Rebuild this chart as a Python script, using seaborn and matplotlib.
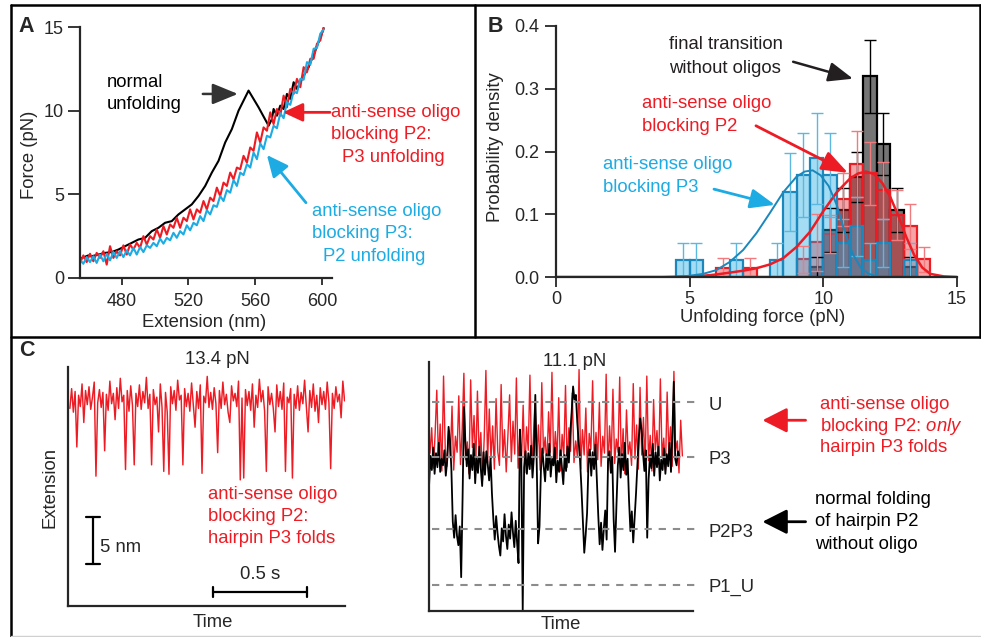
import numpy as np
import pandas as pd
import matplotlib
matplotlib.use("Agg")
import matplotlib.pyplot as plt
from matplotlib.lines import Line2D
import seaborn as sns

sns.set_style("ticks")
plt.rcParams["font.family"] = ["Liberation Sans", "DejaVu Sans"]
plt.rcParams["mathtext.fontset"] = "custom"
plt.rcParams["mathtext.rm"] = "Liberation Sans"
plt.rcParams["mathtext.it"] = "Liberation Sans:italic"

RED = "#ed1c24"
BLUE = "#1cabe2"
BLUE_DK = "#1a87bd"
INK = "#231f20"
FS = 13.3

# ---------------- panel A : force-extension curves ----------------
ext_grid = np.arange(455, 602, 2)
force_p2_blocked = [
    0.9, 1.35, 0.95, 1.45, 1.0, 1.5, 1.2, 1.6, 0.8, 1.9,
    1.2, 1.6, 1.35, 1.95, 1.4, 2.0, 1.7, 2.1, 1.8, 2.5,
    2.0, 2.5, 2.3, 2.9, 2.4, 3.1, 2.6, 3.2, 3.0, 3.6,
    3.0, 3.6, 3.4, 4.1, 3.5, 4.1, 3.9, 4.6, 4.1, 4.8,
    4.6, 5.4, 4.9, 5.7, 5.5, 6.3, 5.9, 6.6, 6.5, 7.3,
    6.9, 7.8, 7.6, 8.7, 8.1, 9.0, 8.8, 9.9, 9.2, 10.1,
    9.7, 10.9, 10.2, 11.3, 11.0, 11.9, 11.4, 12.6, 12.3, 13.1,
    13.1, 14.0, 14.2, 15.0]
force_p3_blocked = [
    1.1, 0.85, 1.25, 0.95, 1.3, 0.9, 1.4, 1.0, 1.45, 1.05,
    1.55, 1.2, 1.6, 1.25, 1.65, 1.35, 1.8, 1.4, 1.85, 1.55,
    1.95, 1.8, 2.1, 1.9, 2.35, 2.05, 2.4, 2.25, 2.7, 2.4,
    2.8, 2.6, 3.15, 2.85, 3.3, 3.15, 3.7, 3.4, 4.05, 3.8,
    4.35, 4.25, 4.9, 4.6, 5.25, 5.1, 5.85, 5.5, 6.3, 6.15,
    6.8, 6.6, 7.5, 7.1, 8.05, 7.7, 8.5, 8.4, 9.1, 8.95,
    9.85, 9.55, 10.5, 10.35, 11.15, 11.05, 11.9, 11.85, 12.9, 12.75,
    13.7, 13.75, 14.6, 14.85]
ext_normal = [455, 460, 462, 466, 470, 474, 478, 482, 486, 490,
              494, 498, 502, 506, 510, 514, 518, 522, 526, 530,
              534, 538, 542, 546, 550, 553, 556, 562, 568, 570,
              571, 573, 575, 577, 579, 581, 583, 585, 588, 592,
              596, 601]
force_normal = [1.15, 1.35, 1.3, 1.4, 1.5, 1.55, 1.7, 1.9, 2.1, 2.3,
                2.4, 2.8, 3.0, 3.3, 3.4, 3.8, 4.1, 4.4, 4.9, 5.5,
                6.3, 7.0, 8.1, 8.9, 10.0, 10.6, 11.2, 10.2, 9.1, 9.5,
                10.1, 9.7, 10.3, 10.1, 11.0, 10.7, 11.7, 11.3, 11.9, 12.6,
                13.6, 14.9]

# ---------------- panel B : unfolding force histograms ----------------
bin_starts = [4.5, 5.0, 5.5, 6.0, 6.5, 7.0, 7.5, 8.0, 8.5, 9.0,
              9.5, 10.0, 10.5, 11.0, 11.5, 12.0, 12.5, 13.0, 13.5]
dens_p3_blocked = [0.027, 0.027, 0, 0, 0.027, 0, 0, 0.027, 0.135, 0.162,
                   0.189, 0.162, 0.054, 0.081, 0.027, 0.054, 0, 0.027, 0]
err_p3_blocked = [0.027, 0.027, 0, 0, 0.027, 0, 0, 0.027, 0.062, 0.067,
                  0.073, 0.067, 0.038, 0.047, 0.027, 0.038, 0, 0.027, 0]
dens_p2_blocked = [0, 0, 0, 0.014, 0, 0.014, 0, 0, 0, 0.028,
                   0.055, 0.069, 0.124, 0.18, 0.165, 0.138, 0.099, 0.081, 0.028]
err_p2_blocked = [0, 0, 0, 0.016, 0, 0.016, 0, 0, 0, 0.022,
                  0.045, 0.03, 0.042, 0.052, 0.05, 0.046, 0.04, 0.036, 0.02]
dens_no_oligo = [0, 0, 0, 0, 0, 0, 0, 0, 0, 0,
                 0.016, 0.075, 0.107, 0.16, 0.32, 0.212, 0.107, 0.016, 0]
err_no_oligo = [0, 0, 0, 0, 0, 0, 0, 0, 0, 0,
                0.016, 0.035, 0.035, 0.04, 0.058, 0.05, 0.035, 0.016, 0]
fit_x_p3 = [4.5, 5.0, 5.5, 6.0, 6.5, 7.0, 7.5, 8.0, 8.5, 9.0, 9.3,
            9.6, 9.9, 10.2, 10.5, 10.8, 11.1, 11.4, 11.7, 12.0, 12.5]
fit_y_p3 = [0.0, 0.002, 0.005, 0.011, 0.024, 0.043, 0.07, 0.102, 0.135, 0.16, 0.168,
            0.17, 0.162, 0.145, 0.115, 0.072, 0.037, 0.015, 0.005, 0.001, 0.0]
fit_x_p2 = [0.0, 4.0, 5.0, 5.5, 6.0, 6.5, 7.0, 7.5, 8.0, 8.5, 9.0, 9.5, 10.0, 10.5,
            11.0, 11.3, 11.6, 11.9, 12.2, 12.5, 12.8, 13.1, 13.4, 13.7, 14.0, 14.5, 15.0]
fit_y_p2 = [0.0, 0.0, 0.001, 0.002, 0.004, 0.007, 0.010, 0.014, 0.02, 0.03, 0.048, 0.072,
            0.105, 0.135, 0.157, 0.165, 0.168, 0.164, 0.15, 0.128, 0.098, 0.064, 0.035,
            0.015, 0.005, 0.001, 0.0]

# ---------------- panel C : constant-force traces ----------------
trace_134 = [
    21.0, 23.1, 20.6, 22.8, 16.9, 22.4, 21.2, 23.6, 19.5, 22.9,
    21.4, 23.3, 20.9, 22.2, 23.8, 13.8, 21.6, 23.0, 21.1, 22.7,
    16.5, 22.5, 20.8, 23.9, 21.5, 22.6, 19.8, 23.2, 21.0, 24.2,
    21.7, 22.4, 14.5, 22.9, 20.7, 23.4, 21.3, 15.0, 22.6, 21.2,
    23.5, 20.9, 22.8, 21.6, 24.3, 21.0, 22.5, 15.0, 23.0, 21.4,
    22.2, 18.5, 23.6, 21.1, 14.3, 22.7, 20.6, 14.0, 23.3, 21.5,
    22.9, 20.8, 24.0, 21.9, 22.4, 15.0, 23.1, 21.2, 22.6, 20.7,
    23.7, 21.3, 19.0, 22.8, 21.0, 23.5, 14.1, 22.3, 21.6, 24.4,
    21.1, 22.7, 20.9, 23.2, 21.5, 16.3, 22.9, 21.0, 23.8, 21.4,
    22.5, 20.6, 19.5, 23.4, 21.8, 22.6, 21.2, 23.9, 13.4, 22.1,
    13.6, 23.0, 21.3, 22.8, 20.8, 23.6, 19.0, 22.4, 21.1, 24.1,
    21.7, 22.9, 20.7, 14.3, 23.3, 21.4, 22.6, 21.0, 18.5, 23.5,
    21.2, 22.8, 20.9, 23.7, 14.3, 22.2, 21.6, 23.1, 13.6, 22.5,
    21.0, 23.4, 20.8, 22.7, 21.5, 24.0, 21.3, 18.5, 22.9, 21.1,
    23.6, 20.7, 22.4, 19.5, 23.2, 21.4, 22.8, 20.9, 23.8, 21.6,
    14.6, 22.6, 21.0, 23.3, 21.7, 22.5, 20.0, 23.9, 21.8, 22.4]
trace_111_oligo = [
    16.8, 19.5, 15.2, 18.8, 23.5, 16.0, 19.9, 14.9, 25.0, 17.2,
    15.4, 19.2, 16.3, 21.8, 15.0, 18.6, 16.9, 22.9, 15.6, 19.4,
    25.3, 16.1, 18.0, 14.6, 24.6, 17.4, 20.8, 15.3, 23.4, 16.6,
    19.0, 13.9, 18.4, 25.6, 15.8, 21.5, 16.2, 19.7, 15.1, 22.6,
    17.0, 15.5, 24.1, 16.4, 19.3, 14.8, 18.7, 23.0, 15.9, 20.2,
    16.7, 24.8, 15.2, 18.9, 16.0, 21.9, 14.7, 19.6, 17.1, 25.1,
    15.6, 18.2, 22.4, 16.3, 19.8, 15.0, 24.3, 16.8, 18.5, 15.4,
    21.2, 16.9, 25.4, 15.7, 19.1, 16.2, 22.7, 14.9, 18.8, 16.5,
    24.0, 15.3, 19.5, 17.0, 23.2, 15.8, 18.1, 16.4, 25.7, 15.1,
    19.3, 16.6, 21.6, 14.8, 18.9, 17.2, 24.5, 15.9, 19.0, 16.1,
    22.2, 15.4, 18.6, 16.8, 25.2, 15.0, 19.7, 16.3, 23.6, 15.7,
    18.3, 16.9, 24.9, 15.2, 19.4, 14.6, 21.4, 16.7, 18.0, 15.5,
    24.2, 16.2, 19.8, 15.1, 23.8, 16.6, 20.6, 15.3, 25.0, 16.0,
    18.7, 14.9, 22.5, 17.1, 19.2, 15.6, 24.7, 16.4, 18.4, 15.0,
    23.3, 16.8, 19.6, 15.4, 25.5, 17.0, 18.1, 14.7, 20.3, 16.5]
trace_111_normal = [
    13.2, 16.5, 15.0, 17.4, 14.6, 16.8, 15.3, 17.9, 14.8, 16.2,
    15.5, 17.1, 14.4, 16.0, 19.6, 18.2, 15.1, 9.5, 7.8, 10.2,
    8.0, 7.0, 9.0, 3.6, 12.0, 21.7, 18.0, 15.4, 17.2, 14.1,
    16.6, 15.0, 17.8, 13.6, 16.3, 14.7, 17.5, 15.2, 13.3, 16.9,
    14.5, 17.0, 15.6, 13.9, 16.4, 12.5, 9.8, 7.6, 10.1, 8.3,
    6.9, 5.9, 8.8, 7.4, 10.3, 8.0, 6.6, 9.2, 7.7, 10.5,
    8.4, 6.8, 9.6, 7.2, 5.1, 19.3, 16.0, 0.0, 15.3, 17.0,
    14.6, 16.8, 15.1, 17.6, 14.2, 16.5, 23.0, 15.8, 7.2, 9.0,
    14.9, 17.3, 15.4, 13.8, 16.7, 15.0, 17.8, 14.3, 16.2, 15.5,
    17.4, 13.7, 16.0, 14.8, 17.1, 15.3, 13.5, 16.6, 14.9, 17.5,
    15.8, 19.0, 21.2, 23.9, 22.5, 23.0, 20.1, 18.0, 16.0, 13.0,
    9.5, 6.2, 8.1, 10.4, 15.6, 17.2, 14.4, 16.9, 15.1, 17.7,
    14.0, 10.2, 7.1, 9.4, 6.5, 8.8, 10.7, 7.6, 15.9, 17.0,
    14.7, 16.4, 9.8, 6.3, 11.2, 15.5, 17.4, 14.2, 16.7, 15.0,
    17.9, 14.5, 16.2, 11.8, 8.5, 10.6, 7.3, 9.9, 12.5, 15.6,
    18.4, 20.5, 19.2, 16.8, 14.9, 17.1, 7.8, 14.0, 16.6, 15.2,
    17.8, 14.4, 16.9, 15.3, 17.5, 13.9, 16.1, 15.0, 17.3, 14.6,
    16.7, 15.4, 17.9, 14.8, 19.0, 24.4, 16.2, 15.5, 17.0, 16.4]
state_names = ["U", "P3", "P2P3", "P1_U"]
state_levels = [22.2, 16.4, 8.7, 2.8]

# ---------------- figure layout (pixel boxes) ----------------
W, H = 981, 637
fig = plt.figure(figsize=(W / 100, H / 100), dpi=100)


def px_box(l, t, r, b):
    return [l / W, 1 - b / H, (r - l) / W, (b - t) / H]


def fig_line(x0, y0, x1, y1, color="black", lw=1.8):
    fig.add_artist(Line2D([x0 / W, x1 / W], [1 - y0 / H, 1 - y1 / H],
                          transform=fig.transFigure, color=color, lw=lw))


def stacked(ax, x, y, lines, color, step=16.2, indents=None, size=FS):
    # multi-line label, each line placed by offset so spacing matches the figure
    for i, line in enumerate(lines):
        dx = 0 if indents is None else indents[i]
        ax.annotate(line, xy=(x, y), xytext=(dx, -i * step), textcoords="offset points",
                    color=color, fontsize=size, ha="left", va="center",
                    annotation_clip=False)


def arrow(ax, tail, tip, color, hl=0.65, hw=0.28, lw=1.8, ms=20):
    ax.annotate("", xy=tip, xytext=tail, annotation_clip=False,
                arrowprops=dict(arrowstyle=f"-|>,head_length={hl},head_width={hw}",
                                color=color, lw=lw, mutation_scale=ms,
                                shrinkA=0, shrinkB=0))


axA = fig.add_axes(px_box(80, 27, 332, 278))
axB = fig.add_axes(px_box(556, 26, 957, 277))
axC1 = fig.add_axes(px_box(68, 367, 345, 606))
axC2 = fig.add_axes(px_box(429, 362, 693, 611))

for ax in (axA, axB, axC1, axC2):
    sns.despine(ax=ax)
    for s in ("left", "bottom"):
        ax.spines[s].set_linewidth(1.6)

# ---- A ----
sns.lineplot(x=ext_normal, y=force_normal, ax=axA, color="black", linewidth=1.5,
             sort=False, estimator=None, errorbar=None)
sns.lineplot(x=ext_grid, y=force_p2_blocked, ax=axA, color=RED, linewidth=1.5,
             sort=False, estimator=None, errorbar=None)
sns.lineplot(x=ext_grid, y=force_p3_blocked, ax=axA, color=BLUE, linewidth=1.5,
             sort=False, estimator=None, errorbar=None)
axA.set_xlim(455, 606)
axA.set_ylim(0, 15)
axA.set_xticks([480, 520, 560, 600])
axA.set_yticks([0, 5, 10, 15])
axA.tick_params(axis="y", length=8.5, width=1.3, pad=3, labelsize=13)
axA.tick_params(axis="x", length=5, width=1.3, pad=6, labelsize=13)
axA.set_xlabel("Extension (nm)", fontsize=FS)
axA.set_ylabel("Force (pN)", fontsize=FS)
axA.xaxis.label.set_va("center")
axA.yaxis.label.set_va("center")
axA.xaxis.set_label_coords(0.492, -0.179)
axA.yaxis.set_label_coords(-0.202, 0.49)

stacked(axA, 471, 11.7, ["normal", "unfolding"], "black", step=15.8)
arrow(axA, (528.6, 11.0), (549.6, 11.0), "#333333", hl=0.78, hw=0.32, lw=1.8)
stacked(axA, 605.4, 9.92, ["anti-sense oligo", "blocking P2:", "P3 unfolding"], RED,
        indents=[0, 0, 8])
arrow(axA, (604.8, 9.9), (576.6, 9.9), RED, hl=0.6, hw=0.28, lw=2.0)
stacked(axA, 594, 4.0, ["anti-sense oligo", "blocking P3:", "P2 unfolding"], BLUE,
        indents=[0, 0, 8])
arrow(axA, (590.4, 4.5), (567.0, 7.35), BLUE, hl=0.65, hw=0.3, lw=2.0)

# ---- B ----
edges = [float(e) for e in bin_starts] + [bin_starts[-1] + 0.5]
centers = np.array(bin_starts) + 0.25
series = [
    (dens_no_oligo, err_no_oligo, "#3a3a3a", 0.7, "black", "black"),
    (dens_p2_blocked, err_p2_blocked, RED, 0.4, RED, "#f07a7d"),
    (dens_p3_blocked, err_p3_blocked, BLUE, 0.4, BLUE_DK, "#5cb8de"),
]
for dens, err, fc, alpha, ec, errc in series:
    dens = np.array(dens)
    err = np.array(err)
    nz = np.nonzero(dens)[0]
    lo, hi = nz[0], nz[-1] + 1
    df = pd.DataFrame({"force": centers[lo:hi], "density": dens[lo:hi]})
    sns.histplot(data=df, x="force", weights="density", bins=edges[lo:hi + 1], ax=axB,
                 color=fc, alpha=alpha, edgecolor=ec, linewidth=1.6)
    m = err > 0
    axB.errorbar(centers[m], dens[m], yerr=err[m], fmt="none", ecolor=errc,
                 elinewidth=1.0, capsize=4.5, capthick=1.0)
sns.lineplot(x=fit_x_p2, y=fit_y_p2, ax=axB, color=RED, linewidth=1.8,
             sort=False, estimator=None, errorbar=None)
sns.lineplot(x=fit_x_p3, y=fit_y_p3, ax=axB, color=BLUE_DK, linewidth=1.4,
             sort=False, estimator=None, errorbar=None)
axB.set_xlim(0, 15)
axB.set_ylim(0, 0.4)
axB.set_xticks([0, 5, 10, 15])
axB.set_yticks([0.0, 0.1, 0.2, 0.3, 0.4])
axB.set_yticklabels(["0.0", "0.1", "0.2", "0.3", "0.4"])
axB.tick_params(axis="y", length=8, width=1.3, pad=4, labelsize=13)
axB.tick_params(axis="x", length=7, width=1.3, pad=3, labelsize=13)
axB.set_xlabel("Unfolding force (pN)", fontsize=FS)
axB.set_ylabel("Probability density", fontsize=FS)
axB.xaxis.label.set_va("center")
axB.yaxis.label.set_va("center")
axB.xaxis.set_label_coords(0.516, -0.163)
axB.yaxis.set_label_coords(-0.152, 0.518)

stacked(axB, 4.23, 0.371, ["final transition", "without oligos"], INK, step=17.3)
arrow(axB, (8.87, 0.343), (11.11, 0.316), INK, hl=0.75, hw=0.3, lw=1.8)
stacked(axB, 3.22, 0.2757, ["anti-sense oligo", "blocking P2"], RED, step=15.9)
arrow(axB, (7.48, 0.241), (10.92, 0.166), RED, hl=0.8, hw=0.3, lw=2.0)
stacked(axB, 1.76, 0.1785, ["anti-sense oligo", "blocking P3"], BLUE, step=16.0)
arrow(axB, (5.91, 0.140), (8.19, 0.115), BLUE, hl=0.75, hw=0.3, lw=2.0)

# ---- C left: 13.4 pN ----
t_left = np.linspace(0.01, 1.48, len(trace_134))
sns.lineplot(x=t_left, y=trace_134, ax=axC1, color=RED, linewidth=1.05,
             sort=False, estimator=None, errorbar=None)
axC1.set_xlim(0, 1.473)
axC1.set_ylim(0, 25.4)
axC1.set_xticks([])
axC1.set_yticks([])
axC1.set_xlabel("Time", fontsize=FS)
axC1.set_ylabel("Extension", fontsize=FS)
axC1.xaxis.label.set_va("center")
axC1.yaxis.label.set_va("center")
axC1.xaxis.set_label_coords(0.523, -0.067)
axC1.yaxis.set_label_coords(-0.065, 0.494)
axC1.text(0.793, 26.2, "13.4 pN", fontsize=FS, ha="center", va="center")

# scale bars
sb_t, sb_y0, sb_nm = 0.133, 4.47, 5.0
axC1.plot([sb_t, sb_t], [sb_y0, sb_y0 + sb_nm], color="black", lw=1.6)
for yy in (sb_y0, sb_y0 + sb_nm):
    axC1.plot([sb_t - 0.037, sb_t + 0.037], [yy, yy], color="black", lw=1.6)
axC1.text(0.17, 6.17, "5 nm", fontsize=FS, ha="left", va="center")
tb_y, tb_t0, tb_s = 1.52, 0.771, 0.5
axC1.plot([tb_t0, tb_t0 + tb_s], [tb_y, tb_y], color="black", lw=1.6)
for tt in (tb_t0, tb_t0 + tb_s):
    axC1.plot([tt, tt], [tb_y - 0.55, tb_y + 0.55], color="black", lw=1.6)
axC1.text(tb_t0 + tb_s / 2, 3.3, "0.5 s", fontsize=FS, ha="center", va="center")
stacked(axC1, 0.745, 11.8, ["anti-sense oligo", "blocking P2:", "hairpin P3 folds"],
        RED, step=15.6)

# ---- C right: 11.1 pN ----
t_red = np.linspace(0.01, 2.53, len(trace_111_oligo))
t_black = np.linspace(0.0, 2.50, len(trace_111_normal))
sns.lineplot(x=t_red, y=trace_111_oligo, ax=axC2, color=RED, linewidth=1.0,
             sort=False, estimator=None, errorbar=None)
sns.lineplot(x=t_black, y=trace_111_normal, ax=axC2, color="black", linewidth=1.3,
             sort=False, estimator=None, errorbar=None)
axC2.set_xlim(0, 2.636)
axC2.set_ylim(0, 26.5)
axC2.set_xticks([])
axC2.set_yticks([])
axC2.set_xlabel("Time", fontsize=FS)
axC2.set_ylabel("")
axC2.xaxis.label.set_va("center")
axC2.xaxis.set_label_coords(0.499, -0.056)
axC2.text(1.45, 26.6, "11.1 pN", fontsize=FS, ha="center", va="center")
for name, lvl in zip(state_names, state_levels):
    axC2.plot([0.026, 2.665], [lvl, lvl], color="#8c8c8c", lw=1.5,
              linestyle=(0, (3.5, 3.3)), clip_on=False, zorder=3)
    axC2.text(2.79, lvl - 0.3, name, fontsize=FS, ha="left", va="center")

arrow(axC2, (3.76, 20.3), (3.33, 20.3), RED, hl=0.75, hw=0.38, lw=2.0)
stacked(axC2, 3.9, 22.0, ["anti-sense oligo", "blocking P2: $\\mathit{only}$",
                          "hairpin P3 folds"], RED, step=15.7)
arrow(axC2, (3.76, 9.5), (3.33, 9.5), "black", hl=0.75, hw=0.38, lw=2.0)
stacked(axC2, 3.855, 11.9, ["normal folding", "of hairpin P2", "without oligo"],
        "black", step=16.3)

# ---- panel frames and letters ----
fig_line(11, 5, 980, 5)
fig_line(11, 5, 11, 637)
fig_line(979.5, 5, 979.5, 337)
fig_line(475, 5, 475, 337)
fig_line(11, 337, 980, 337)
fig_line(11, 635.5, 980, 635.5, color="#d0d0d0", lw=1.0)
fig.text(18 / W, 1 - 27 / H, "A", fontsize=15.5, fontweight="bold", ha="left", va="center")
fig.text(488 / W, 1 - 27 / H, "B", fontsize=15.5, fontweight="bold", ha="left", va="center")
fig.text(19 / W, 1 - 350 / H, "C", fontsize=15.5, fontweight="bold", ha="left", va="center")

fig.savefig("out.png", dpi=100)
